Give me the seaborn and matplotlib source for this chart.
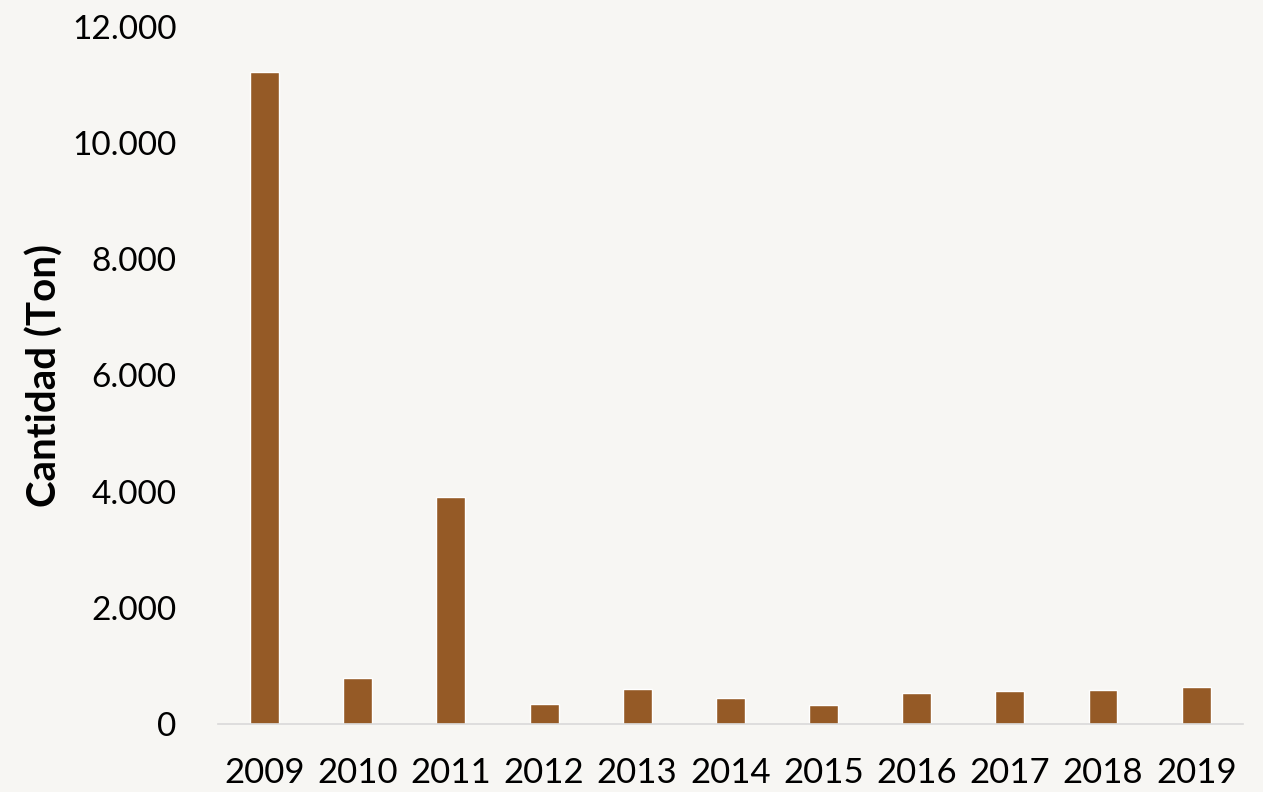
import matplotlib
matplotlib.use("Agg")
import matplotlib.pyplot as plt
import matplotlib.ticker as mticker
import seaborn as sns
import pandas as pd

# Datos
anios = ["2009", "2010", "2011", "2012", "2013", "2014", "2015", "2016", "2017", "2018", "2019"]
cantidad = [11230, 786, 3908, 339, 596, 447, 321, 533, 572, 584, 636]

fondo = "#F7F6F3"
cafe = "#955A26"

sns.set_style("white")
plt.rcParams["font.family"] = ["Lato", "DejaVu Sans"]

df = pd.DataFrame({"Año": anios, "Cantidad": cantidad})

fig = plt.figure(figsize=(12.63, 7.92), dpi=100, facecolor=fondo)
ax = fig.add_axes([0.1726, 0.0859, 0.8114, 0.88])
ax.set_facecolor(fondo)

sns.barplot(data=df, x="Año", y="Cantidad", color=cafe, width=0.31,
            saturation=1, ax=ax)

ax.set_xlim(-0.5, 10.5)
ax.set_ylim(0, 12000)
ax.yaxis.set_major_locator(mticker.MultipleLocator(2000))
ax.yaxis.set_major_formatter(
    mticker.FuncFormatter(lambda v, p: f"{v:,.0f}".replace(",", ".")))

for lado in ["top", "right", "left"]:
    ax.spines[lado].set_visible(False)
ax.spines["bottom"].set_color("#D9D9D9")
ax.spines["bottom"].set_linewidth(1.2)

ax.tick_params(axis="x", length=0, labelsize=25, pad=24, labelcolor="black")
ax.tick_params(axis="y", length=0, labelsize=24, pad=30, labelcolor="black")
ax.set_xlabel("")
ax.set_ylabel("Cantidad (Ton)", fontsize=29, fontweight="bold",
              color="black", labelpad=6)
ax.grid(False)

fig.savefig("out.png", dpi=100, facecolor=fondo)
